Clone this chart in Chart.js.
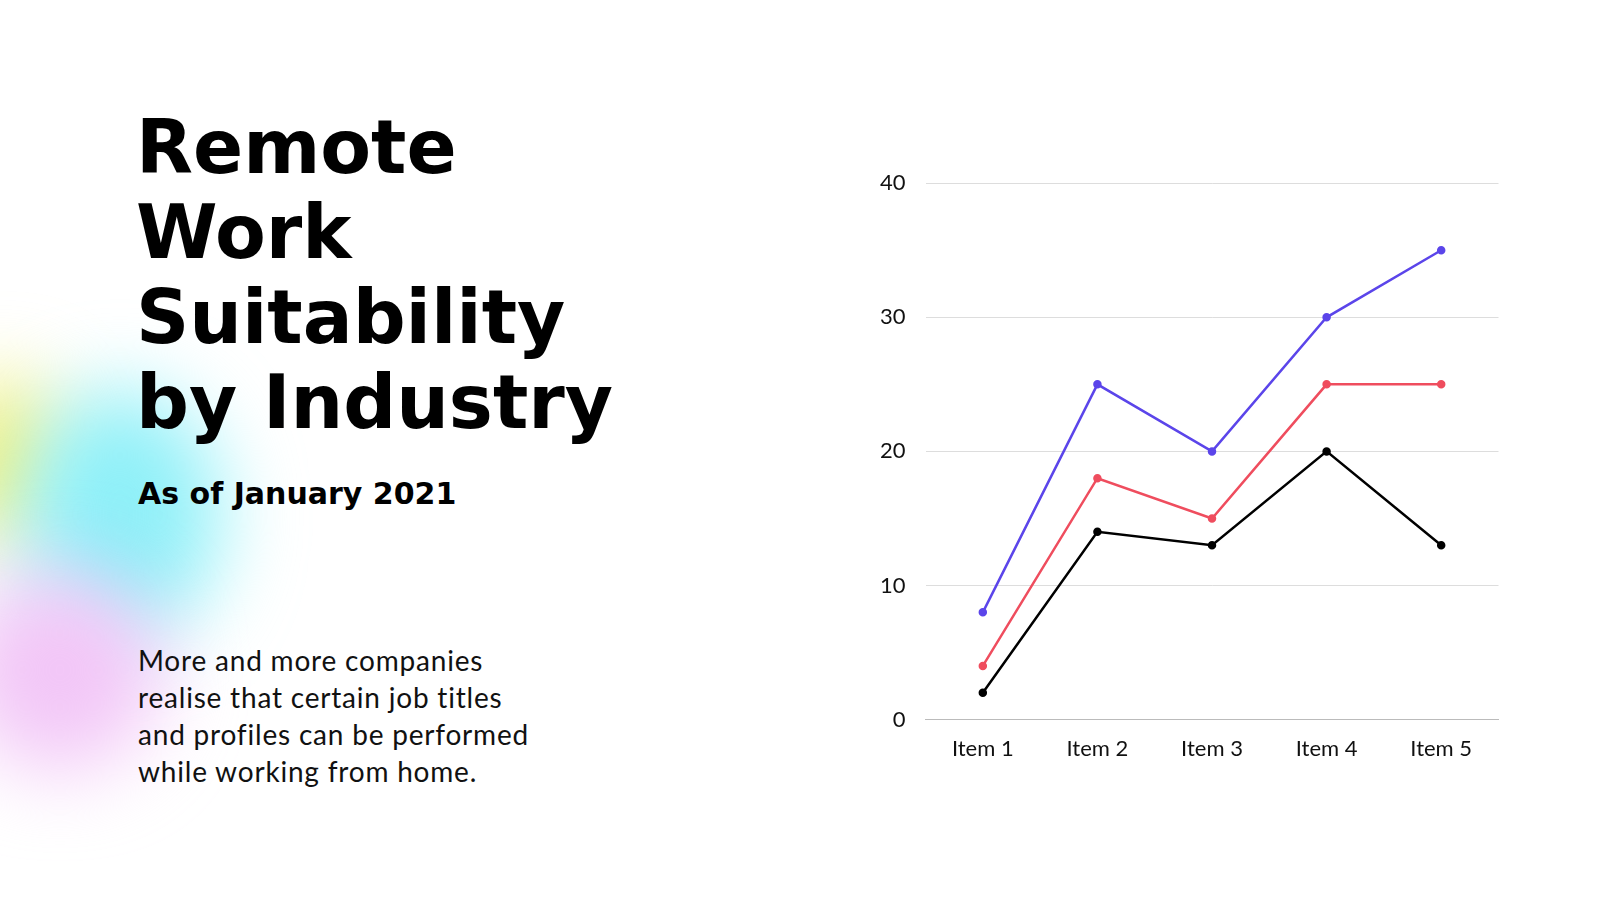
<!DOCTYPE html>
<html>
<head>
<meta charset="utf-8">
<script src="https://cdn.jsdelivr.net/npm/chart.js@4"></script>
<style>
  body { margin:0; width:1600px; height:900px; background:#fff; overflow:hidden; position:relative; font-family:Lato, sans-serif; }
  .blob { position:absolute; border-radius:50%; filter:blur(40px); }
  #title { position:absolute; left:136px; top:105px; font-family:"DejaVu Sans", sans-serif; font-weight:900; font-size:74px; line-height:85px; letter-spacing:0px; color:#000; }
  #sub { position:absolute; left:138px; top:476px; font-family:"DejaVu Sans", sans-serif; font-weight:bold; font-size:30px; letter-spacing:0px; }
  #body { position:absolute; left:138px; top:642px; font-size:28px; line-height:37px; letter-spacing:0.8px; color:#111; }
  #wrap { position:absolute; left:860px; top:150px; width:645px; height:620px; }
</style>
</head>
<body>
<div class="blob" style="left:-60px;top:380px;width:120px;height:160px;background:#f3f07a;"></div>
<div class="blob" style="left:20px;top:390px;width:200px;height:250px;background:#8ff0f8;"></div>
<div class="blob" style="left:-40px;top:570px;width:200px;height:200px;background:#f2c6f7;"></div>
<div id="title">Remote<br>Work<br>Suitability<br>by Industry</div>
<div id="sub">As of January 2021</div>
<div id="body">More and more companies<br>realise that certain job titles<br>and profiles can be performed<br>while working from home.</div>
<div id="wrap"><canvas id="myGraph"></canvas></div>
<script>
/* DATOS */
const categorias = ["Item 1", "Item 2", "Item 3", "Item 4", "Item 5"];
const serieAzul = [8, 25, 20, 30, 35];
const serieRoja = [4, 18, 15, 25, 25];
const serieNegra = [2, 14, 13, 20, 13];
const ticksY = [0, 10, 20, 30, 40];

function dataset(valores, color) {
  return { data: valores, borderColor: color, backgroundColor: color, borderWidth: 2.5, pointRadius: 3, tension: 0 };
}

new Chart(document.getElementById("myGraph"), {
  type: "line",
  data: {
    labels: categorias,
    datasets: [dataset(serieAzul, "#5b45ea"), dataset(serieRoja, "#ef4d5e"), dataset(serieNegra, "#000000")]
  },
  options: {
    responsive: true, maintainAspectRatio: false, animation: false,
    plugins: { legend: { display: false }, tooltip: { enabled: false } },
    scales: {
      x: { offset: true, grid: { display: false }, border: { color: "#bbb" },
           ticks: { color: "#111", font: { family: "Lato", size: 22 }, padding: 8 } },
      y: { min: 0, max: 40, afterBuildTicks: (s) => { s.ticks = ticksY.map(v => ({ value: v })); },
           grid: { color: "#ddd", drawTicks: false }, border: { display: false },
           ticks: { color: "#111", font: { family: "Lato", size: 22 }, padding: 20 } }
    }
  }
});
</script>
</body>
</html>
